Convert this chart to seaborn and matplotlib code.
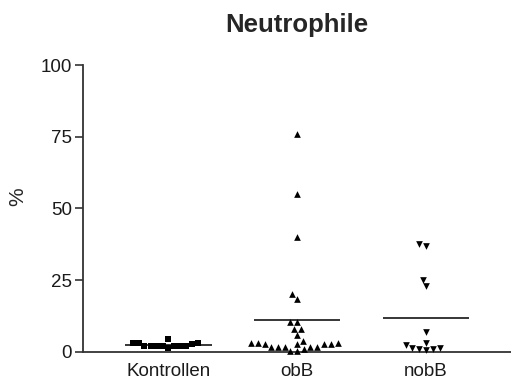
import matplotlib
matplotlib.use("Agg")
import matplotlib.pyplot as plt
import seaborn as sns
import pandas as pd
import numpy as np

groups = ["Kontrollen", "obB", "nobB"]
kontrollen = [2.7, 2.0, 2.0, 2.9, 2.0, 4.3, 2.9, 1.2, 2.9, 2.0, 2.0, 2.0, 2.0]
obb = [76, 55, 40, 20, 18.5, 10.5, 10.2, 7.8, 7.8, 5.8, 3.9, 2.7, 2.7, 2.9,
       2.9, 2.7, 2.9, 2.7, 1.8, 1.8, 1.8, 1.8, 1.8, 0.2, 0.2, 1.0]
nobb = [37.6, 37.0, 25.1, 23.0, 6.8, 3.2, 1.4, 1.0, 0.6, 0.8, 1.4, 2.3]
yticks = [0, 25, 50, 75, 100]
title = "Neutrophile"
ylabel = "%"

sns.set_style("ticks")
plt.rcParams["font.family"] = ["Liberation Sans", "DejaVu Sans"]

fig = plt.figure(figsize=(5.11, 3.86), dpi=100)
ax = fig.add_axes([0.1624, 0.0889, 0.8376, 0.7427])

series = [kontrollen, obb, nobb]
markers = ["s", "^", "v"]
sizes = [4.2, 4.8, 4.8]
ax.set_xlim(-0.664, 2.66)
ax.set_ylim(0, 100)
for g, vals, m, s in zip(groups, series, markers, sizes):
    df = pd.DataFrame({"group": [g] * len(vals), "value": vals})
    sns.swarmplot(data=df, x="group", y="value", order=groups, marker=m,
                  color="black", size=s, ax=ax, linewidth=0)
ax.set_xlim(-0.664, 2.66)
ax.set_ylim(0, 100)

means = [np.mean(v) for v in series]
ax.hlines(means, np.arange(3) - 0.335, np.arange(3) + 0.335, color="black", lw=1.1, zorder=3)

for c in ax.collections:
    c.set_clip_on(False)

ax.set_yticks(yticks)
ax.set_yticklabels([str(t) for t in yticks], fontsize=13.5, color="#1a1a1a")
ax.set_xticks(range(3))
ax.set_xticklabels(groups, fontsize=13.5, color="#1a1a1a")
ax.tick_params(axis="x", length=0, pad=8)
ax.tick_params(axis="y", length=6, width=1.2, color="#333333", pad=2)
ax.set_xlabel("")
ax.set_ylabel(ylabel, fontsize=15)
ax.yaxis.set_label_coords(-0.13, 0.54)
for sp in ["top", "right"]:
    ax.spines[sp].set_visible(False)
for sp in ["left", "bottom"]:
    ax.spines[sp].set_color("#333333")
    ax.spines[sp].set_linewidth(1.3)
ax.set_title(title, fontsize=18.5, fontweight="bold", pad=24)

fig.savefig("out.png", dpi=100)
